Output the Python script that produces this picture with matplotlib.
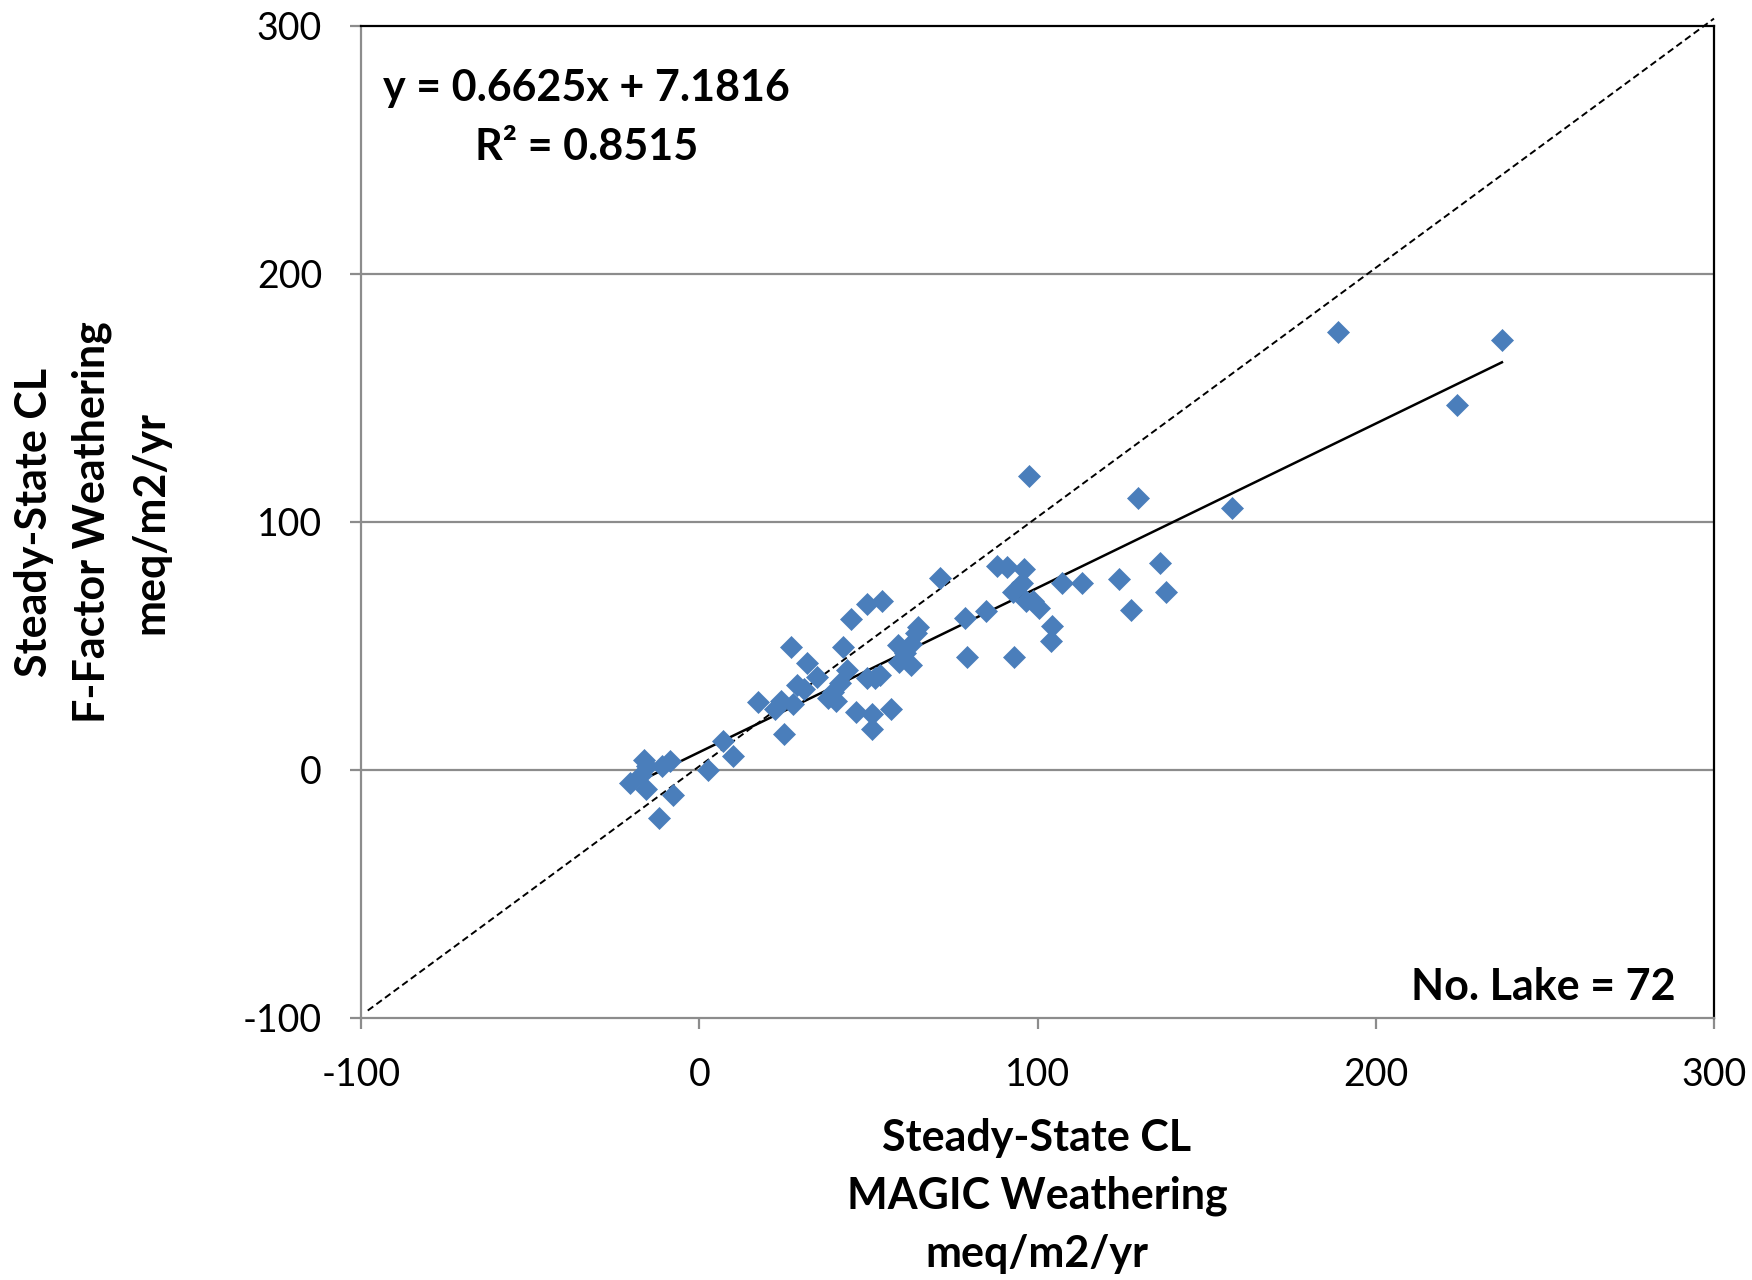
import matplotlib
matplotlib.use("Agg")
import matplotlib.pyplot as plt
import numpy as np

plt.rcParams['font.family'] = ['Lato', 'DejaVu Sans']

# MAGIC weathering (x) vs F-Factor weathering (y), meq/m2/yr
magic = [188.8, 237.3, 224.1, 157.4, 129.7, 97.4, 136.3, 138.0, 124.1, 127.7,
         113.2, 107.3, 104.3, 104.0, 100.3, 98.7, 96.7, 96.0, 95.4, 92.7,
         91.1, 88.1, 93.1, 84.8, 79.2, 78.5, 71.3, 64.7, 64.0, 62.7,
         62.7, 60.7, 59.1, 58.7, 56.8, 54.1, 49.5, 53.5, 52.1, 49.5,
         51.2, 51.2, 44.9, 46.2, 42.6, 43.6, 41.6, 40.3, 38.0, 34.7,
         32.0, 31.0, 29.0, 27.1, 27.7, 24.1, 25.1, 22.4, 17.5, 9.9,
         6.9, 2.6, -7.9, -8.6, -10.9, -11.9, -15.5, -15.8, -17.2, -20.5,
         -16.2, 39.5]
ffactor = [176.6, 173.5, 147.0, 105.6, 109.7, 118.7, 83.6, 71.9, 76.9, 64.7,
           75.5, 75.5, 58.0, 52.1, 65.2, 68.3, 68.0, 80.9, 75.5, 71.9,
           81.8, 82.2, 45.4, 64.3, 45.4, 61.1, 77.3, 57.5, 55.3, 42.2,
           50.7, 47.2, 43.6, 50.3, 24.7, 68.3, 67.0, 38.2, 36.9, 36.9,
           22.5, 16.6, 60.7, 23.4, 49.4, 40.4, 35.1, 27.9, 29.2, 37.3,
           43.1, 32.8, 34.2, 49.4, 26.5, 27.9, 14.4, 24.7, 27.4, 5.8,
           11.7, 0.0, -9.9, 3.6, 1.8, -19.3, 1.8, -7.6, -2.2, -5.4,
           4.0, 31.5]

# Trendline coefficients (as shown on chart)
slope = 0.6625
intercept = 7.1816
r2 = 0.8515
n_lakes = 72

# 1:1 reference line
ref_x = [-98, 300]
ref_y = [-97, 303]

xticks = [-100, 0, 100, 200, 300]
yticks = [-100, 0, 100, 200, 300]

fig = plt.figure(figsize=(17.52, 12.8), dpi=100)
ax = fig.add_axes([361/1752, 1 - 1018/1280, (1714-361)/1752, (1018-26)/1280])

ax.set_xlim(-100, 300)
ax.set_ylim(-100, 300)

gray = '#8c8c8c'
for yv in [0, 100, 200]:
    ax.axhline(yv, color=gray, lw=1.6, zorder=1)

ax.plot(ref_x, ref_y, color='black', lw=1.4, ls=(0, (3.5, 2.0)), zorder=2, clip_on=False)

tx = np.array([min(magic), max(magic)])
ax.plot(tx, slope * tx + intercept, color='black', lw=1.8, zorder=3)

ax.plot(magic, ffactor, ls='none', marker='D', ms=11, color='#4a7ebb',
        markeredgecolor='#4a7ebb', markeredgewidth=0.5, zorder=4)

for s in ['left', 'bottom']:
    ax.spines[s].set_color(gray)
    ax.spines[s].set_linewidth(1.6)
for s in ['top', 'right']:
    ax.spines[s].set_color('black')
    ax.spines[s].set_linewidth(1.6)

ax.set_xticks(xticks)
ax.set_yticks(yticks)
ax.set_xticklabels([str(v) for v in xticks])
ax.set_yticklabels([str(v) for v in yticks])
ax.tick_params(axis='both', direction='out', length=8, width=1.6, color=gray,
               labelsize=27, labelcolor='black')
ax.tick_params(axis='x', pad=20)
ax.tick_params(axis='y', pad=20)

ax.text(-33.3, 274.8, f"y = {slope}x + {intercept}", ha='center', va='center',
        fontsize=31, fontweight='bold')
ax.text(-33.3, 251.4, f"R² = {r2}", ha='center', va='center',
        fontsize=31, fontweight='bold')
ax.text(288.8, -87.4, f"No. Lake = {n_lakes}", ha='right', va='center',
        fontsize=31, fontweight='bold')

fig.text(1037/1752, 1 - 1196/1280, "Steady-State CL\nMAGIC Weathering\nmeq/m2/yr",
         ha='center', va='center', fontsize=31, fontweight='bold', linespacing=1.55)
fig.text(92/1752, 1 - 522/1280, "Steady-State CL\nF-Factor Weathering\nmeq/m2/yr",
         ha='center', va='center', fontsize=31, fontweight='bold', linespacing=1.55,
         rotation=90)

fig.savefig("out.png", dpi=100)
